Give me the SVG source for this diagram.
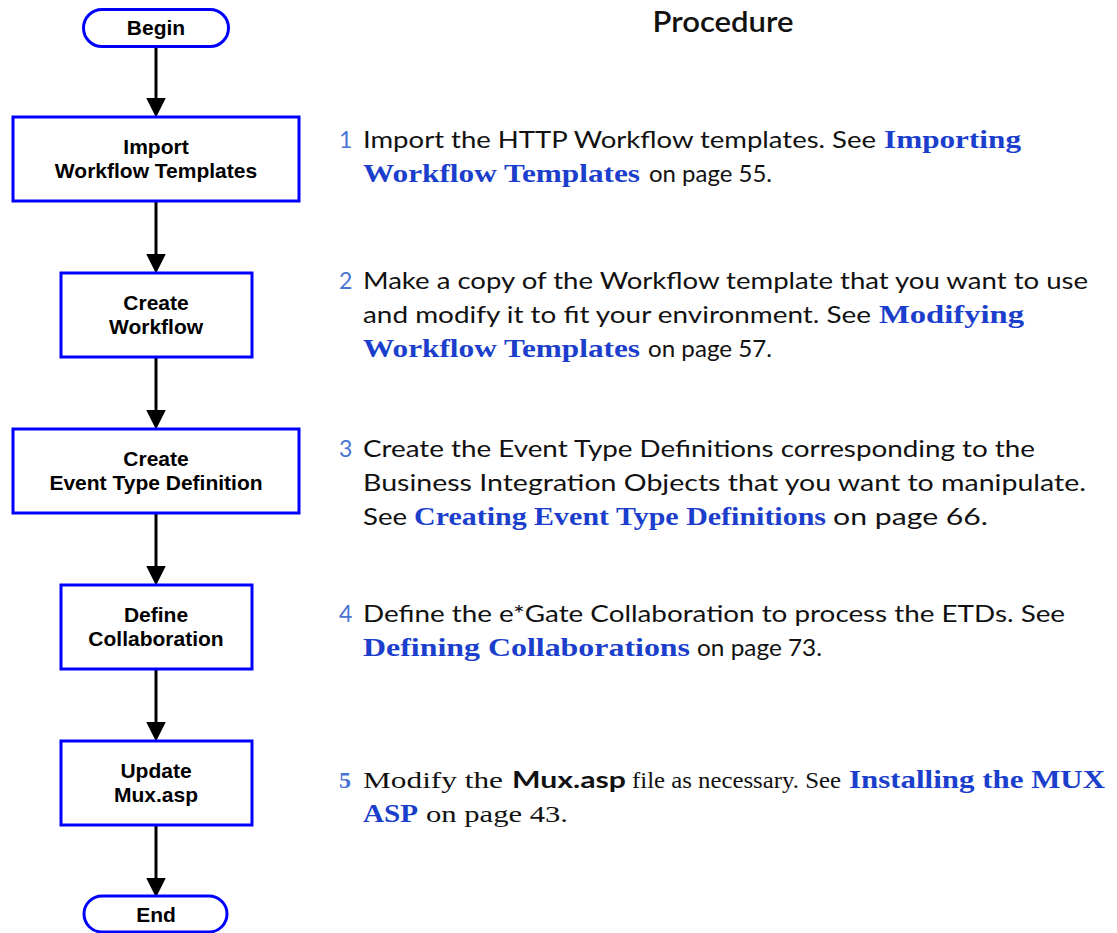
<svg xmlns="http://www.w3.org/2000/svg" width="1117" height="933" viewBox="0 0 1117 933">
<style>
.node{fill:#fff;stroke:#0000ff;stroke-width:3}
.lbl{font-family:"Liberation Sans",Arial,sans-serif;font-weight:bold;font-size:21px;fill:#000;text-anchor:middle}
.conn{stroke:#000;stroke-width:3;fill:none}
.body{font-family:"Lato","Noto Sans",sans-serif;font-size:23px;fill:#111}
.ser{font-family:"Liberation Serif","Times New Roman",serif;font-size:24px;fill:#111}
.link{font-family:"Liberation Serif","Times New Roman",serif;font-weight:bold;font-size:25px;fill:#1b3fcc}
.num{font-family:"Lato","Noto Sans",sans-serif;font-size:23px;fill:#4a74d4}
.numS{font-family:"Liberation Serif",serif;font-weight:bold;font-size:24px;fill:#4a74d4}
.bsans{font-family:"Lato","Noto Sans",sans-serif;font-weight:bold;font-size:23px;fill:#111}
.title{font-family:"Lato","Noto Sans",sans-serif;font-weight:600;font-size:28px;fill:#111;text-anchor:middle}
</style>
<defs>
<marker id="ah" markerUnits="userSpaceOnUse" markerWidth="20" markerHeight="20" viewBox="0 0 19 19" refX="9" refY="9.5" orient="auto">
<path d="M0,0 L19,9.5 L0,19 z" fill="#000"/>
</marker>
</defs>
<g id="connectors">
<line class="conn" x1="156" y1="47" x2="156" y2="107" marker-end="url(#ah)"/>
<line class="conn" x1="156" y1="201" x2="156" y2="263" marker-end="url(#ah)"/>
<line class="conn" x1="156" y1="357" x2="156" y2="419" marker-end="url(#ah)"/>
<line class="conn" x1="156" y1="513" x2="156" y2="575" marker-end="url(#ah)"/>
<line class="conn" x1="156" y1="669" x2="156" y2="731" marker-end="url(#ah)"/>
<line class="conn" x1="156" y1="825" x2="156" y2="887" marker-end="url(#ah)"/>
</g>
<g id="begin">
<rect class="node" x="83.5" y="9.5" width="145" height="37" rx="18.5"/>
<text class="lbl" x="156" y="35">Begin</text>
</g>
<g id="import">
<rect class="node" x="13" y="117" width="286" height="84"/>
<text class="lbl" x="156" y="154">Import</text>
<text class="lbl" x="156" y="178">Workflow Templates</text>
</g>
<g id="createWorkflow">
<rect class="node" x="61" y="273" width="191" height="84"/>
<text class="lbl" x="156" y="310">Create</text>
<text class="lbl" x="156" y="334">Workflow</text>
</g>
<g id="createETD">
<rect class="node" x="13" y="429" width="286" height="84"/>
<text class="lbl" x="156" y="466">Create</text>
<text class="lbl" x="156" y="490">Event Type Definition</text>
</g>
<g id="defineCollab">
<rect class="node" x="61" y="585" width="191" height="84"/>
<text class="lbl" x="156" y="622">Define</text>
<text class="lbl" x="156" y="646">Collaboration</text>
</g>
<g id="updateMux">
<rect class="node" x="61" y="741" width="191" height="84"/>
<text class="lbl" x="156" y="778">Update</text>
<text class="lbl" x="156" y="802">Mux.asp</text>
</g>
<g id="end">
<rect class="node" x="84" y="896" width="143" height="36" rx="18"/>
<text class="lbl" x="156" y="922">End</text>
</g>
<g id="procedure">
<text class="title" x="723" y="32" textLength="141" lengthAdjust="spacingAndGlyphs">Procedure</text>

<text class="num" x="339" y="148">1</text>
<text class="body" x="363" y="148" textLength="513" lengthAdjust="spacingAndGlyphs">Import the HTTP Workflow templates. See</text>
<text class="link" x="884" y="148" textLength="137" lengthAdjust="spacingAndGlyphs">Importing</text>
<text class="link" x="363" y="182" textLength="277" lengthAdjust="spacingAndGlyphs">Workflow Templates</text>
<text class="body" x="649" y="182" textLength="123" lengthAdjust="spacingAndGlyphs">on page 55.</text>

<text class="num" x="339" y="289">2</text>
<text class="body" x="363" y="289" textLength="725" lengthAdjust="spacingAndGlyphs">Make a copy of the Workflow template that you want to use</text>
<text class="body" x="363" y="323" textLength="508" lengthAdjust="spacingAndGlyphs">and modify it to fit your environment. See</text>
<text class="link" x="879" y="323" textLength="145" lengthAdjust="spacingAndGlyphs">Modifying</text>
<text class="link" x="363" y="357" textLength="277" lengthAdjust="spacingAndGlyphs">Workflow Templates</text>
<text class="body" x="648" y="357" textLength="124" lengthAdjust="spacingAndGlyphs">on page 57.</text>

<text class="num" x="339" y="457">3</text>
<text class="body" x="363" y="457" textLength="672" lengthAdjust="spacingAndGlyphs">Create the Event Type Definitions corresponding to the</text>
<text class="body" x="363" y="491" textLength="723" lengthAdjust="spacingAndGlyphs">Business Integration Objects that you want to manipulate.</text>
<text class="body" x="363" y="525" textLength="44" lengthAdjust="spacingAndGlyphs">See</text>
<text class="link" x="414" y="525" textLength="412" lengthAdjust="spacingAndGlyphs">Creating Event Type Definitions</text>
<text class="body" x="833" y="525" textLength="155" lengthAdjust="spacingAndGlyphs">on page 66.</text>

<text class="num" x="339" y="622">4</text>
<text class="body" x="363" y="622" textLength="702" lengthAdjust="spacingAndGlyphs">Define the e*Gate Collaboration to process the ETDs. See</text>
<text class="link" x="363" y="656" textLength="327" lengthAdjust="spacingAndGlyphs">Defining Collaborations</text>
<text class="body" x="697" y="656" textLength="125" lengthAdjust="spacingAndGlyphs">on page 73.</text>

<text class="numS" x="339" y="788">5</text>
<text class="ser" x="363" y="788" textLength="140" lengthAdjust="spacingAndGlyphs">Modify the</text>
<text class="bsans" x="512" y="788" textLength="114" lengthAdjust="spacingAndGlyphs">Mux.asp</text>
<text class="ser" x="632" y="788" textLength="209" lengthAdjust="spacingAndGlyphs">file as necessary. See</text>
<text class="link" x="849" y="788" textLength="256" lengthAdjust="spacingAndGlyphs">Installing the MUX</text>
<text class="link" x="363" y="822" textLength="55" lengthAdjust="spacingAndGlyphs">ASP</text>
<text class="ser" x="426" y="822" textLength="142" lengthAdjust="spacingAndGlyphs">on page 43.</text>
</g>
</svg>
